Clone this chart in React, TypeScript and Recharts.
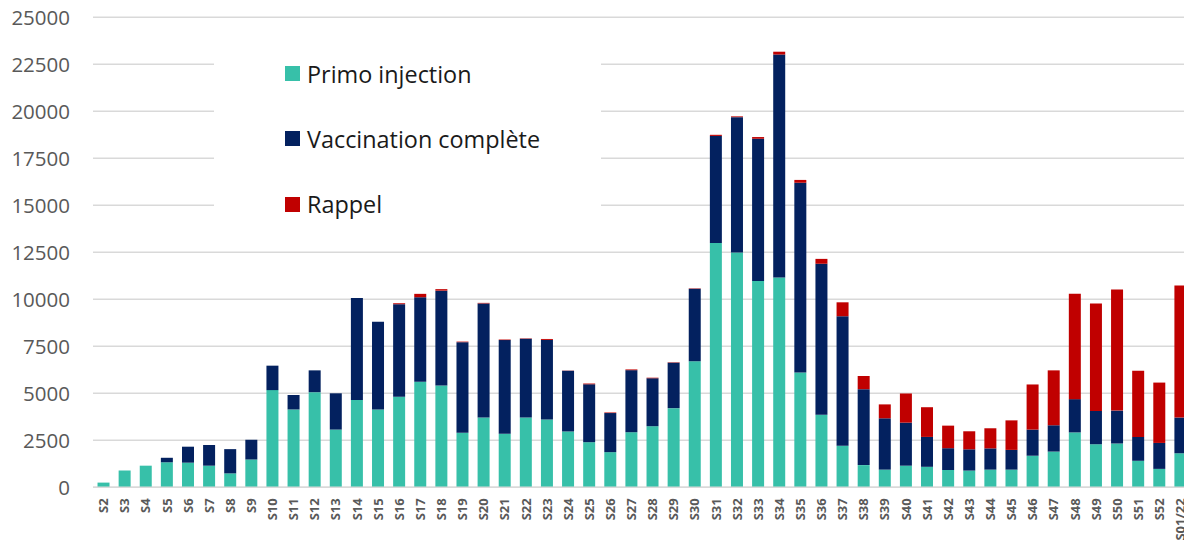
import React from 'react';
import { BarChart, Bar, XAxis, YAxis, CartesianGrid } from 'recharts';

const weeks = ['S2','S3','S4','S5','S6','S7','S8','S9','S10','S11','S12','S13','S14','S15','S16','S17','S18','S19','S20','S21','S22','S23','S24','S25','S26','S27','S28','S29','S30','S31','S32','S33','S34','S35','S36','S37','S38','S39','S40','S41','S42','S43','S44','S45','S46','S47','S48','S49','S50','S51','S52','S01/22'];
const primo = [250,900,1150,1330,1310,1150,740,1480,5170,4140,5060,3070,4650,4140,4820,5610,5420,2900,3710,2850,3710,3600,2970,2400,1870,2930,3250,4210,6700,12990,12490,10980,11160,6110,3860,2210,1180,940,1150,1090,920,890,940,940,1680,1900,2920,2290,2330,1410,980,1810];
const complete = [0,0,0,240,850,1100,1290,1050,1300,770,1160,1930,5420,4660,4920,4500,5040,4820,6070,4980,4190,4240,3230,3080,2080,3300,2550,2420,3860,5700,7200,7560,11860,10090,8030,6890,4040,2730,2290,1590,1160,1130,1130,1050,1390,1400,1770,1770,1750,1270,1380,1900];
const rappel = [0,0,0,0,0,0,0,0,0,0,0,0,0,0,50,180,80,30,30,30,20,50,10,40,30,40,30,20,20,60,40,90,150,150,260,740,700,740,1550,1580,1200,960,1070,1570,2400,2920,5610,5720,6440,3520,3210,7030];
const yTicks = [0,2500,5000,7500,10000,12500,15000,17500,20000,22500,25000];

const seriesNames = ['Primo injection', 'Vaccination complète', 'Rappel'];
const colors = ['#37C0A9', '#03215F', '#C00000'];

const data = weeks.map((w, i) => ({ week: w, primo: primo[i], complete: complete[i], rappel: rappel[i] }));

const FONT = '"Open Sans", "Noto Sans", sans-serif';

const YTick = (props: any) => {
  const { x, y, payload } = props;
  return (
    <text x={x} y={y} dy="0.36em" textAnchor="end" fill="#595959" fontSize={20.5} fontFamily={FONT}>
      {payload.value}
    </text>
  );
};

const XTick = (props: any) => {
  const { x, y, payload } = props;
  return (
    <text
      x={x}
      y={y}
      dy="0.36em"
      textAnchor="end"
      fill="#595959"
      fontSize={13}
      fontWeight="bold"
      fontFamily={FONT}
      transform={`rotate(-90, ${x}, ${y})`}
    >
      {payload.value}
    </text>
  );
};

export default function App() {
  return (
    <div style={{ position: 'absolute', left: 0, top: 0, width: 1184, height: 544, background: '#fff', overflow: 'hidden' }}>
      <BarChart
        width={1191}
        height={544}
        data={data}
        margin={{ top: 17.3, right: 0, left: 0, bottom: 0 }}
        barCategoryGap="21.4%"
      >
        <CartesianGrid vertical={false} stroke="#D9D9D9" strokeWidth={1.6} />
        <XAxis
          dataKey="week"
          height={56.7}
          interval={0}
          tickLine={false}
          axisLine={{ stroke: '#D9D9D9', strokeWidth: 1.6 }}
          tick={<XTick />}
          tickSize={0}
          tickMargin={11}
        />
        <YAxis
          width={93}
          domain={[0, 25000]}
          ticks={yTicks}
          interval={0}
          axisLine={false}
          tickLine={false}
          tickSize={0}
          tickMargin={23}
          tick={<YTick />}
        />
        <Bar dataKey="primo" stackId="a" fill={colors[0]} isAnimationActive={false} name={seriesNames[0]} />
        <Bar dataKey="complete" stackId="a" fill={colors[1]} isAnimationActive={false} name={seriesNames[1]} />
        <Bar dataKey="rappel" stackId="a" fill={colors[2]} isAnimationActive={false} name={seriesNames[2]} />
      </BarChart>
      <div style={{ position: 'absolute', left: 214, top: 30, width: 387, height: 200, background: '#fff', fontFamily: FONT }}>
        {seriesNames.map((n, i) => (
          <div key={n} style={{ position: 'absolute', left: 71, top: 43.5 + i * 65.3 - 18, height: 36, display: 'flex', alignItems: 'center' }}>
            <div style={{ width: 15, height: 15, background: colors[i], marginRight: 7 }} />
            <span style={{ fontSize: 23.4, color: '#1a1a1a', whiteSpace: 'nowrap' }}>{n}</span>
          </div>
        ))}
      </div>
    </div>
  );
}
